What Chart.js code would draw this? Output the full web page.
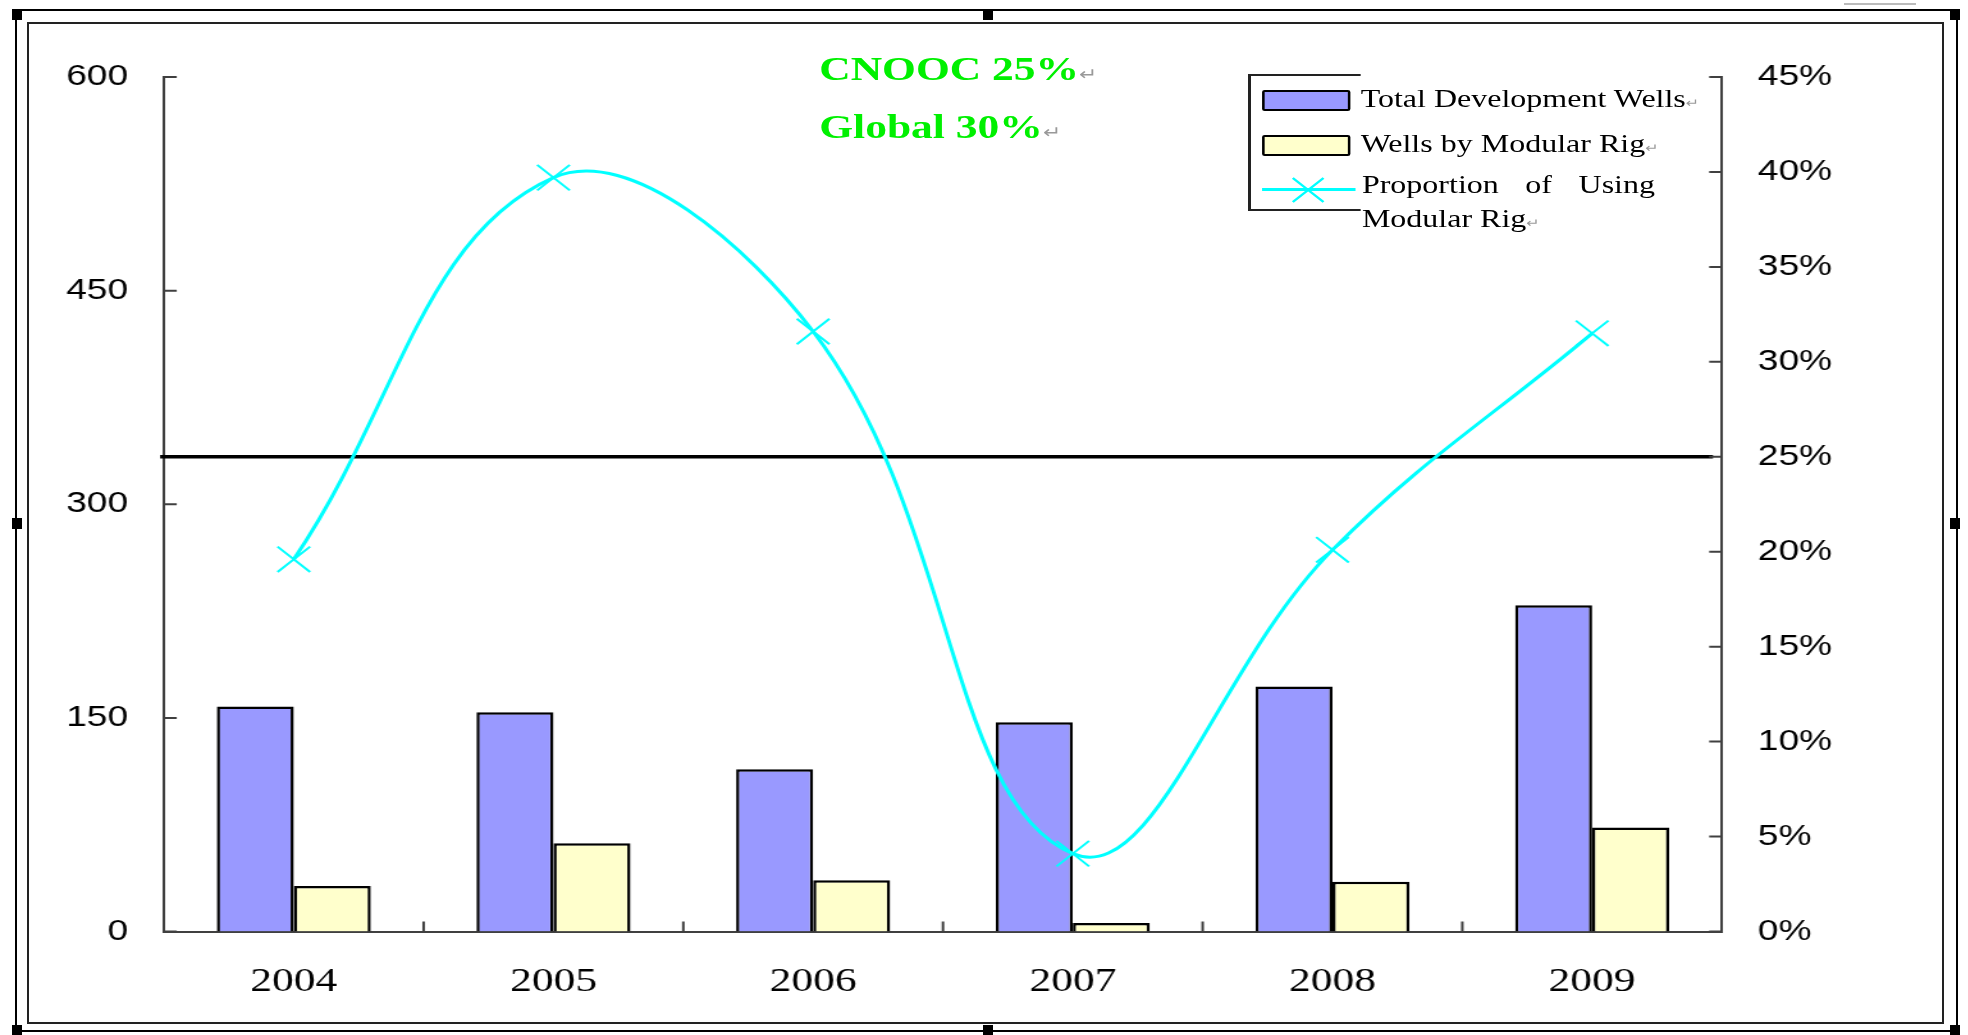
<!DOCTYPE html>
<html><head><meta charset="utf-8">
<script src="https://cdn.jsdelivr.net/npm/chart.js@4.4.1/dist/chart.umd.min.js"></script>
<style>
html,body{margin:0;padding:0;background:#fff;width:1968px;height:1035px;overflow:hidden;position:relative;}
.box{position:absolute;box-sizing:border-box;}
.hd{position:absolute;background:#000;width:10px;height:11px;}
#wrap{position:absolute;left:0;top:0;width:1538px;height:1035px;transform:scaleX(1.28);transform-origin:0 0;}
#c{position:absolute;left:0;top:0;}
.txt{position:absolute;font-family:'Liberation Serif','Times New Roman',serif;line-height:1;white-space:nowrap;color:#000;}
.ret{color:#999;font-size:0.5em;font-family:'DejaVu Sans',sans-serif;font-weight:normal;}
.sw{position:absolute;box-sizing:border-box;border:2px solid #000;border-radius:2px;}
</style></head>
<body>
<div class="box" style="left:15px;top:9px;width:1943px;height:1023px;border:2px solid #000;"></div>
<div class="box" style="left:27px;top:22px;width:1917px;height:1002px;border:2px solid #222;"></div>
<div class="box" style="left:1844px;top:3px;width:72px;height:2px;background:#bbb;"></div>
<div class="hd" style="left:12px;top:9px"></div>
<div class="hd" style="left:983px;top:9px"></div>
<div class="hd" style="left:1950px;top:9px"></div>
<div class="hd" style="left:12px;top:518px"></div>
<div class="hd" style="left:1950px;top:518px"></div>
<div class="hd" style="left:12px;top:1025px"></div>
<div class="hd" style="left:983px;top:1025px"></div>
<div class="hd" style="left:1950px;top:1025px"></div>

<div id="wrap">
  <canvas id="c" width="1538" height="1035"></canvas>
  <div class="txt" style="left:640px;top:52px;font-size:34px;font-weight:bold;color:#00f000;">CNOOC 25%<span class="ret">↵</span></div>
  <div class="txt" style="left:640px;top:110px;font-size:34px;font-weight:bold;color:#00f000;">Global 30%<span class="ret">↵</span></div>

  <div class="box" style="left:975px;top:74px;width:88px;height:2px;background:#222;"></div>
  <div class="box" style="left:975px;top:74px;width:2px;height:137px;background:#222;"></div>
  <div class="box" style="left:975px;top:209px;width:88px;height:2px;background:#222;"></div>

  <div class="sw" style="left:986px;top:90px;width:69px;height:21px;background:#9999ff;"></div>
  <div class="sw" style="left:986px;top:135px;width:69px;height:21px;background:#ffffcc;"></div>
  <div class="box" style="left:986px;top:188px;width:73px;height:3px;background:#00ffff;"></div>
  <svg style="position:absolute;left:1008px;top:176px;" width="28" height="28"><path d="M2,2 L26,26 M2,26 L26,2" stroke="#00ffff" stroke-width="2"/></svg>

  <div class="txt" id="lg1" style="left:1063px;top:86px;font-size:25px;">Total Development Wells<span class="ret">↵</span></div>
  <div class="txt" id="lg2" style="left:1063px;top:131px;font-size:25px;">Wells by Modular Rig<span class="ret">↵</span></div>
  <div class="txt" id="lg3" style="left:1064px;top:172px;font-size:25px;width:229px;display:flex;justify-content:space-between;"><span>Proportion</span><span>of</span><span>Using</span></div>
  <div class="txt" id="lg4" style="left:1064px;top:206px;font-size:25px;">Modular Rig<span class="ret">↵</span></div>
</div>

<script>
const categories = ['2004', '2005', '2006', '2007', '2008', '2009'];
const totalWells = [158, 154, 114, 147, 172, 229];
const modularWells = [32, 62, 36, 6, 35, 73];
const proportionPct = [19.6, 39.7, 31.6, 4.1, 20.1, 31.5];
const leftMax = 600, leftStep = 150;
const rightMax = 45, rightStep = 5;
const referenceLevel = 25;
const seriesNames = ['Total Development Wells', 'Wells by Modular Rig', 'Proportion of Using Modular Rig'];

const axisColor = '#404040';
const tickMarks = {
  id: 'tickMarks',
  beforeDatasetsDraw(chart) {
    const {ctx, chartArea: a, scales} = chart;
    const p = scales.y1.getPixelForValue(referenceLevel);
    ctx.save();
    ctx.strokeStyle = '#000';
    ctx.lineWidth = 3.5;
    ctx.beginPath();
    ctx.moveTo(a.left - 3, p);
    ctx.lineTo(a.right - 7, p);
    ctx.stroke();
    ctx.restore();
  },
  afterDraw(chart) {
    const {ctx, chartArea: a, scales: {x, y, y1}} = chart;
    ctx.save();
    ctx.strokeStyle = axisColor;
    ctx.lineWidth = 2;
    ctx.beginPath();
    y.ticks.forEach(t => { const p = y.getPixelForValue(t.value); ctx.moveTo(a.left, p); ctx.lineTo(a.left + 10, p); });
    y1.ticks.forEach(t => { const p = y1.getPixelForValue(t.value); ctx.moveTo(a.right - 10, p); ctx.lineTo(a.right, p); });
    for (let i = 0; i < categories.length - 1; i++) {
      const p = (x.getPixelForValue(i) + x.getPixelForValue(i + 1)) / 2;
      ctx.moveTo(p, a.bottom); ctx.lineTo(p, a.bottom - 10);
    }
    ctx.stroke();
    ctx.restore();
  }
};

new Chart(document.getElementById('c'), {
  data: {
    labels: categories,
    datasets: [
      { type: 'line', label: seriesNames[2], data: proportionPct, yAxisID: 'y1', order: 0,
        borderColor: '#00ffff', borderWidth: 3, tension: 0.4, fill: false,
        pointStyle: 'crossRot', pointRadius: 18, pointBorderWidth: 2, pointBorderColor: '#00ffff', pointBackgroundColor: '#00ffff' },
      { type: 'bar', label: seriesNames[0], data: totalWells, yAxisID: 'y', order: 1,
        backgroundColor: '#9999ff', borderColor: '#000', borderWidth: 2.5,
        categoryPercentage: 0.593, barPercentage: 1.0 },
      { type: 'bar', label: seriesNames[1], data: modularWells, yAxisID: 'y', order: 1,
        backgroundColor: '#ffffcc', borderColor: '#000', borderWidth: 2.5,
        categoryPercentage: 0.593, barPercentage: 1.0 }
    ]
  },
  options: {
    responsive: false,
    animation: false,
    devicePixelRatio: 1,
    layout: { padding: { top: 77, left: 0, right: 0, bottom: 0 } },
    plugins: { legend: { display: false }, tooltip: { enabled: false } },
    scales: {
      x: {
        grid: { display: false },
        border: { display: true, color: axisColor, width: 2 },
        ticks: { color: '#000', padding: 22, font: { family: "'Liberation Serif', serif", size: 34 } },
        afterFit(s) { s.height = 103.5; }
      },
      y: {
        position: 'left', min: 0, max: leftMax,
        grid: { display: false },
        border: { display: true, color: axisColor, width: 2 },
        ticks: { stepSize: leftStep, color: '#000', padding: 20, font: { family: "'Liberation Sans', Arial, sans-serif", size: 29 } },
        afterFit(s) { s.width = 128.1; }
      },
      y1: {
        position: 'right', min: 0, max: rightMax,
        grid: { display: false },
        border: { display: true, color: axisColor, width: 2 },
        ticks: { stepSize: rightStep, color: '#000', padding: 20, font: { family: "'Liberation Sans', Arial, sans-serif", size: 29 },
          callback: v => v + '%' },
        afterFit(s) { s.width = 192.7; }
      }
    }
  },
  plugins: [tickMarks]
});
</script>
</body></html>
